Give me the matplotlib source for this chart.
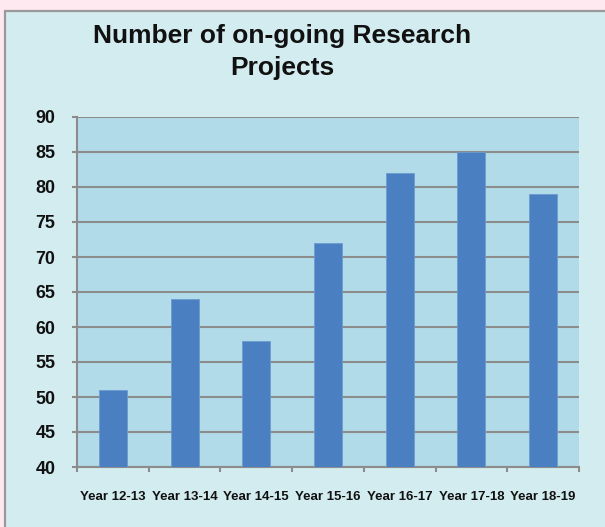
import matplotlib.pyplot as plt
from matplotlib.patches import Rectangle

# data
years = ['Year 12-13', 'Year 13-14', 'Year 14-15', 'Year 15-16',
         'Year 16-17', 'Year 17-18', 'Year 18-19']
projects = [51, 64, 58, 72, 82, 85, 79]
y_ticks = [40, 45, 50, 55, 60, 65, 70, 75, 80, 85, 90]

plt.rcParams['font.family'] = ['Liberation Sans', 'DejaVu Sans']

fig = plt.figure(figsize=(6.05, 5.27), dpi=100)
fig.patch.set_facecolor('#fde9ef')

# light cyan panel with grey border
panel = Rectangle((5 / 605, -0.05), 1.1, 1 - 11 / 527 + 0.05,
                  transform=fig.transFigure, facecolor='#d3ecf0',
                  edgecolor='#9a9a9a', linewidth=1.6, zorder=-5)
fig.add_artist(panel)

ax = fig.add_axes([77 / 605, 1 - 467 / 527, (579 - 77) / 605, (467 - 117) / 527])
ax.set_zorder(2)
ax.set_facecolor('#b2dbe9')

x = range(len(years))
ax.bar(x, projects, width=0.39, bottom=0, color='#4a7fc1',
       edgecolor='#6e9bd0', linewidth=0.6, zorder=3)

ax.set_ylim(40, 90)
ax.set_xlim(-0.5, len(years) - 0.5)
ax.set_yticks(y_ticks)
ax.set_xticks(x)
ax.set_xticklabels(years)
ax.set_xticks([i - 0.5 for i in range(len(years) + 1)], minor=True)

ax.yaxis.grid(True, color='#8c8c8c', linewidth=1.5, zorder=1)
ax.set_axisbelow(True)

for s in ['top', 'right']:
    ax.spines[s].set_visible(False)
for s in ['left', 'bottom']:
    ax.spines[s].set_color('#8c8c8c')
    ax.spines[s].set_linewidth(1.5)

ax.tick_params(axis='y', length=3.6, width=1.5, color='#8c8c8c', pad=12,
               labelsize=12.9)
ax.tick_params(axis='x', which='major', length=0, pad=17, labelsize=9.5)
ax.tick_params(axis='x', which='minor', length=3.6, width=1.5, color='#8c8c8c')
for lab in ax.get_yticklabels() + ax.get_xticklabels():
    lab.set_fontweight('bold')
    lab.set_color('#111111')

fig.text(282 / 605, 1 - 24 / 527, 'Number of on-going Research\nProjects',
         ha='center', va='top', fontsize=19, fontweight='bold',
         linespacing=1.4, color='#111111', zorder=5)

fig.savefig('out.png', dpi=100, facecolor=fig.get_facecolor())
